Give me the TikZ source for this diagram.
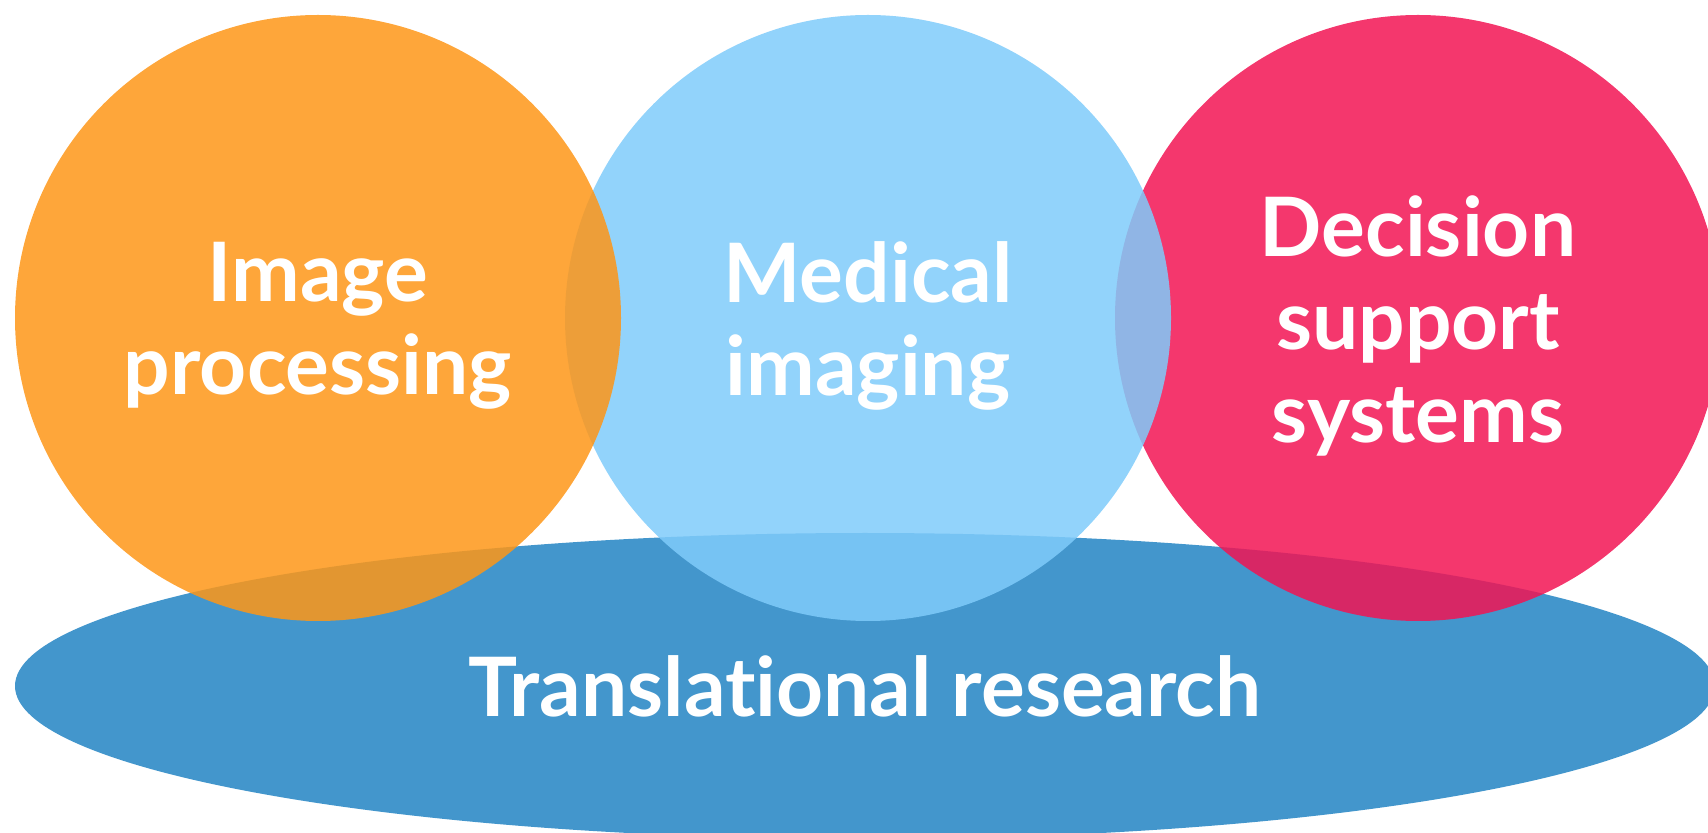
\documentclass[tikz,border=0pt]{standalone}
\usepackage{fontspec}
\setmainfont{Lato}[Ligatures=NoCommon]
\usepackage{tikz}
\usetikzlibrary{shapes.geometric}
\definecolor{Orange}{RGB}{254,150,23}
\definecolor{Sky}{RGB}{127,203,250}
\definecolor{Rose}{RGB}{242,20,84}
\definecolor{Ocean}{RGB}{67,150,204}
\tikzset{
  bubble/.style={circle,draw=none,inner sep=0pt,minimum size=303pt,fill opacity=0.85},
  orangebubble/.style={bubble,fill=Orange},
  skybubble/.style={bubble,fill=Sky},
  rosebubble/.style={bubble,fill=Rose},
  basebox/.style={ellipse,draw=none,inner sep=0pt,minimum width=850pt,minimum height=153pt,fill=Ocean},
  caption/.style={text=white,align=center,inner sep=0pt,font=\fontsize{41pt}{46.5pt}\selectfont\bfseries}
}
\begin{document}
\begin{tikzpicture}[x=0.5pt,y=-0.5pt]
\clip (0,0) rectangle (1708,833);
\node[basebox] (research) at (865,686) {};
\node[rosebubble] (decision) at (1418,318) {};
\node[skybubble] (medical) at (868,318) {};
\node[orangebubble] (imgproc) at (318,318) {};
% captions sit a little below the centres
\node[caption] (imgproc-text) at ([yshift=-4pt]imgproc.center) {Image\\processing};
\node[caption] (medical-text) at ([yshift=-4pt]medical.center) {Medical\\imaging};
\node[caption] (decision-text) at ([yshift=-4pt]decision.center) {Decision\\support\\systems};
\node[caption] (research-text) at (research.center) {Translational research};
\end{tikzpicture}
\end{document}
